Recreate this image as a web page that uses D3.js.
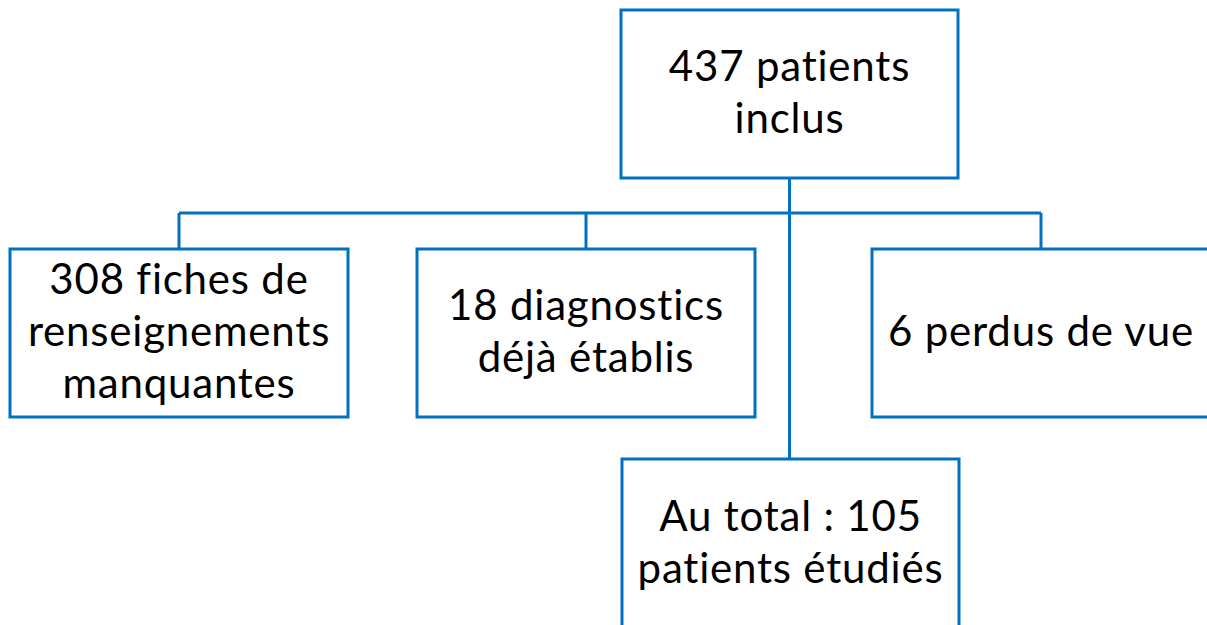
<!DOCTYPE html>
<html>
<head>
<meta charset="utf-8">
<script src="https://cdn.jsdelivr.net/npm/d3@7"></script>
<style>
    html, body { margin: 0; padding: 0; background: #fff; overflow: hidden; }
</style>
</head>
<body>
<div id="chart"></div>
<script>
// Flowchart text (one entry per box, lines split)
const topLabel = ["437 patients", "inclus"];
const excludedLabels = [
    ["308 fiches de", "renseignements", "manquantes"],
    ["18 diagnostics", "déjà établis"],
    ["6 perdus de vue"]
];
const finalLabel = ["Au total : 105", "patients étudiés"];

const width = 1207;
const height = 625;
const blue = "#0070c0";
const fontSize = 42;
const lineHeight = 52;

// box layout (x, y, w, h)
const topBox = { x: 621, y: 10, w: 337, h: 168 };
const midBoxes = [
    { x: 10, y: 249, w: 338, h: 168 },
    { x: 417, y: 249, w: 338, h: 168 },
    { x: 872, y: 249, w: 338, h: 168 }
];
const bottomBox = { x: 622, y: 459, w: 337, h: 170 };
const branchY = 213;

const svg = d3.select("#chart")
    .append("svg")
    .attr("width", width)
    .attr("height", height);

const links = svg.append("g")
    .attr("fill", "none")
    .attr("stroke", blue)
    .attr("stroke-width", 3);

const trunkX = topBox.x + topBox.w / 2;

// horizontal branch
links.append("line")
    .attr("x1", midBoxes[0].x + midBoxes[0].w / 2)
    .attr("x2", midBoxes[2].x + midBoxes[2].w / 2)
    .attr("y1", branchY).attr("y2", branchY);

// drops to excluded boxes
midBoxes.forEach(b => {
    links.append("line")
        .attr("x1", b.x + b.w / 2).attr("x2", b.x + b.w / 2)
        .attr("y1", branchY).attr("y2", b.y);
});

// main trunk down to the final box
links.append("line")
    .attr("x1", trunkX).attr("x2", trunkX)
    .attr("y1", topBox.y + topBox.h).attr("y2", bottomBox.y);

function drawBox(b, lines) {
    const g = svg.append("g");
    g.append("rect")
        .attr("x", b.x).attr("y", b.y)
        .attr("width", b.w).attr("height", b.h)
        .attr("fill", "#fff")
        .attr("stroke", blue)
        .attr("stroke-width", 3);
    const cy = b.y + b.h / 2;
    const firstBase = cy - (lines.length - 1) * lineHeight / 2 + 13;
    g.append("text")
        .attr("font-family", "Lato, 'Open Sans', sans-serif")
        .attr("font-size", fontSize)
        .attr("letter-spacing", 0.8)
        .style("font-variant-ligatures", "none")
        .attr("fill", "#000")
        .attr("text-anchor", "middle")
        .selectAll("tspan")
        .data(lines)
        .join("tspan")
        .attr("x", b.x + b.w / 2)
        .attr("y", (d, i) => firstBase + i * lineHeight)
        .text(d => d);
}

drawBox(topBox, topLabel);
midBoxes.forEach((b, i) => drawBox(b, excludedLabels[i]));
drawBox(bottomBox, finalLabel);
</script>
</body>
</html>
